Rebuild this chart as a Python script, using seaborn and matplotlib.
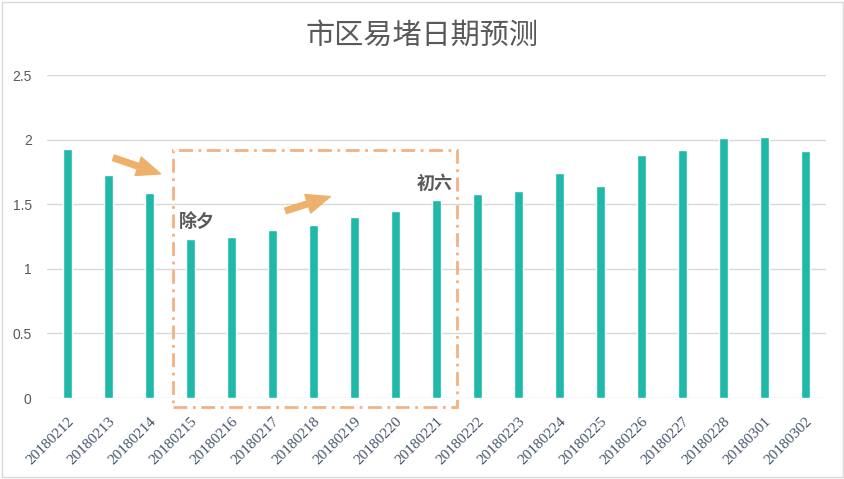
import numpy as np
import pandas as pd
import matplotlib
matplotlib.use('Agg')
import matplotlib.pyplot as plt
import seaborn as sns
from matplotlib.patches import Rectangle

# Data
dates = ['20180212', '20180213', '20180214', '20180215', '20180216', '20180217',
         '20180218', '20180219', '20180220', '20180221', '20180222', '20180223',
         '20180224', '20180225', '20180226', '20180227', '20180228', '20180301',
         '20180302']
congestion = [1.93, 1.73, 1.59, 1.23, 1.25, 1.30, 1.34, 1.40, 1.45, 1.53, 1.58,
              1.60, 1.74, 1.64, 1.88, 1.92, 2.01, 2.02, 1.91]
y_ticks = [0, 0.5, 1, 1.5, 2, 2.5]
y_tick_labels = ['0', '0.5', '1', '1.5', '2', '2.5']

BAR_COLOR = '#20B8A8'
ORANGE_BOX = '#F4B183'
ORANGE_ARROW = '#EDB16B'
TEXT_GRAY = '#595959'

sns.set_theme(style='white')
plt.rcParams['font.family'] = ['Noto Sans CJK SC', 'DejaVu Sans']

df = pd.DataFrame({'date': dates, 'value': congestion})

fig = plt.figure(figsize=(8.45, 4.79), dpi=100)
ax = fig.add_axes([0.0556, 0.169, 0.922, 0.674])

sns.barplot(data=df, x='date', y='value', color=BAR_COLOR, width=0.22,
            saturation=1, ax=ax)

ax.set_xlim(-0.5, len(dates) - 0.5)
ax.set_ylim(0, 2.5)
ax.set_yticks(y_ticks)
ax.set_yticklabels(y_tick_labels, color=TEXT_GRAY, fontsize=10,
                   family=['Liberation Sans', 'DejaVu Sans'])
ax.set_xticks(range(len(dates)))
ax.set_xticklabels(dates, rotation=45, ha='right', rotation_mode='anchor',
                   color='#44546A', fontsize=11, family='Liberation Serif')
ax.tick_params(axis='both', length=0)
ax.tick_params(axis='x', pad=12)
ax.tick_params(axis='y', pad=11)
ax.set_xlabel('')
ax.set_ylabel('')
for s in ax.spines.values():
    s.set_visible(False)
ax.yaxis.grid(True, color='#D9D9D9', linewidth=1)
ax.set_axisbelow(True)

fig.suptitle('市区易堵日期预测', fontsize=21, color=TEXT_GRAY, x=0.5, y=0.925,
             va='center')

# Holiday highlight box (除夕 to 初六)
box = Rectangle((2.585, -0.067), 9.49 - 2.585, 1.92 + 0.067, fill=False,
                edgecolor=ORANGE_BOX, linewidth=2, linestyle=(0, (5, 2, 1, 2)),
                clip_on=False, zorder=5)
ax.add_patch(box)

ax.text(2.71, 1.365, '除夕', fontsize=13, fontweight='bold', color=TEXT_GRAY,
        ha='left', va='center')
ax.text(9.39, 1.66, '初六', fontsize=13, fontweight='bold', color=TEXT_GRAY,
        ha='right', va='center')

arrow_style = 'simple,head_length=1.7,head_width=1.4,tail_width=0.42'
ax.annotate('', xy=(2.27, 1.736), xytext=(1.12, 1.86),
            arrowprops=dict(arrowstyle=arrow_style, mutation_scale=10,
                            color=ORANGE_ARROW, shrinkA=0, shrinkB=0))
ax.annotate('', xy=(6.41, 1.56), xytext=(5.32, 1.45),
            arrowprops=dict(arrowstyle=arrow_style, mutation_scale=10,
                            color=ORANGE_ARROW, shrinkA=0, shrinkB=0))

# light frame around the whole chart
fig.patches.append(Rectangle((0.002, 0.004), 0.996, 0.992, transform=fig.transFigure,
                             fill=False, edgecolor='#D9D9D9', linewidth=1))

fig.savefig('out.png', dpi=100)
